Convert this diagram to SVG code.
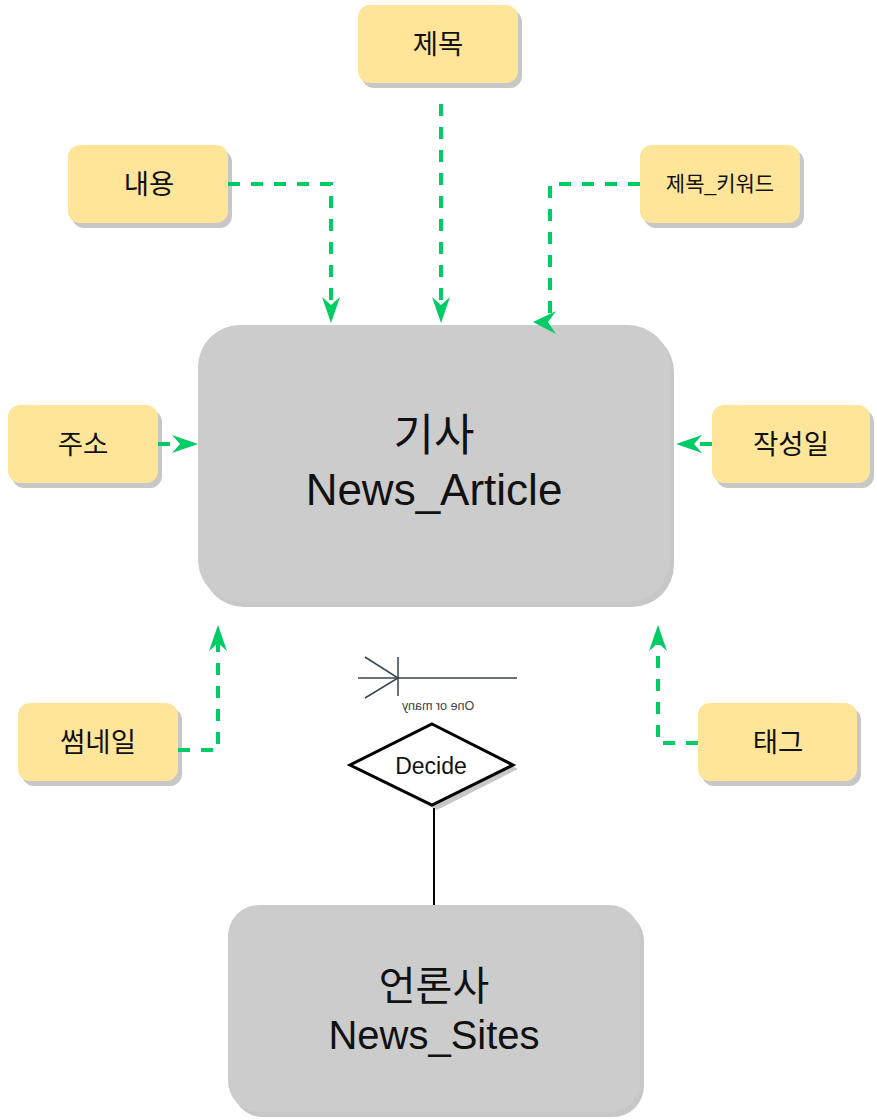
<svg xmlns="http://www.w3.org/2000/svg" width="877" height="1120" viewBox="0 0 877 1120">
<style>
.attr{fill:#ffe599;}
.ent{fill:#cccccc;}
.sh{fill:#000;opacity:0.22;}
.t{font-family:"Liberation Sans","Noto Sans CJK KR",sans-serif;fill:#111;text-anchor:middle;}
.ta{font-size:27.5px;}
.tb{font-size:44px;}
.tc{font-size:40px;}
.dash{fill:none;stroke:#00cc66;stroke-width:4;stroke-dasharray:12 11;}
.arr{marker-end:url(#arr);}
</style>
<defs>
<marker id="arr" markerUnits="userSpaceOnUse" markerWidth="26" markerHeight="18" viewBox="0 0 26 18" refX="8" refY="9" orient="auto" overflow="visible">
<path d="M0,0 L26,9 L0,18 L8,9 Z" fill="#00cc66"/>
</marker>
</defs>
<rect width="877" height="1120" fill="#ffffff"/>
<g id="node-title">
<rect class="sh" x="362" y="10" width="160" height="78" rx="12"/>
<rect class="attr" x="358" y="5" width="160" height="78" rx="12"/>
<text class="t ta" x="438" y="54">제목</text>
</g>
<g id="node-content">
<rect class="sh" x="72" y="150" width="160" height="78" rx="12"/>
<rect class="attr" x="68" y="145" width="160" height="78" rx="12"/>
<text class="t ta" x="149" y="194">내용</text>
</g>
<g id="node-title-keyword">
<rect class="sh" x="644" y="150" width="160" height="78" rx="12"/>
<rect class="attr" x="640" y="145" width="160" height="78" rx="12"/>
<text class="t" x="720" y="191" style="font-size:21px">제목_키워드</text>
</g>
<g id="node-address">
<rect class="sh" x="12" y="410" width="150" height="78" rx="12"/>
<rect class="attr" x="8" y="405" width="150" height="78" rx="12"/>
<text class="t ta" x="83" y="454">주소</text>
</g>
<g id="node-date">
<rect class="sh" x="716" y="410" width="158" height="78" rx="12"/>
<rect class="attr" x="712" y="405" width="158" height="78" rx="12"/>
<text class="t ta" x="791" y="454">작성일</text>
</g>
<g id="node-thumbnail">
<rect class="sh" x="22" y="708" width="160" height="78" rx="12"/>
<rect class="attr" x="18" y="703" width="160" height="78" rx="12"/>
<text class="t ta" x="98" y="752">썸네일</text>
</g>
<g id="node-tag">
<rect class="sh" x="702" y="708" width="159" height="78" rx="12"/>
<rect class="attr" x="698" y="703" width="159" height="78" rx="12"/>
<text class="t ta" x="778" y="752">태그</text>
</g>
<g id="node-article">
<rect class="sh" x="202" y="330" width="472" height="277" rx="42"/>
<rect class="ent" x="198" y="325" width="472" height="277" rx="42"/>
<text class="t tb" x="434" y="451">기사</text>
<text class="t tb" x="434" y="505">News_Article</text>
</g>
<g id="node-decide">
<polygon points="437,728 518,769 437,810 355,769" fill="#000" opacity="0.22"/>
<polygon points="432,724 513,765 432,805 350,765" fill="#fff" stroke="#000" stroke-width="3" stroke-linejoin="miter"/>
<text class="t" x="431" y="774" style="font-size:23px">Decide</text>
</g>
<g id="node-press">
<rect class="sh" x="232" y="910" width="412" height="207" rx="31"/>
<rect class="ent" x="228" y="905" width="412" height="207" rx="31"/>
<text class="t tc" x="434" y="1000">언론사</text>
<text class="t tc" x="434" y="1049">News_Sites</text>
</g>
<g id="connectors">
<path class="dash arr" d="M228,184 H331 V305"/>
<path class="dash arr" d="M441,104 V305"/>
<path class="dash" d="M640,184 H550 V318"/>
<polygon points="533,322 556,311 548,322 556,334" fill="#00cc66"/>
<path class="dash arr" d="M158,444 H180"/>
<path class="dash arr" d="M712,444 H694"/>
<path class="dash arr" d="M178,750 H218 V643"/>
<path class="dash arr" d="M698,743 H658 V643"/>
<path d="M434,808 V905" fill="none" stroke="#000" stroke-width="2"/>
<g id="one-or-many" stroke="#36454f" stroke-width="1.5" fill="none">
<path d="M358,678 H517"/>
<path d="M398,657 V696"/>
<path d="M365,657 L398,678 L365,698"/>
</g>
<text class="t" transform="matrix(-1 0 0 1 876 0)" x="438" y="710" style="font-size:12.5px;fill:#444">One or many</text>
</g>
</svg>
